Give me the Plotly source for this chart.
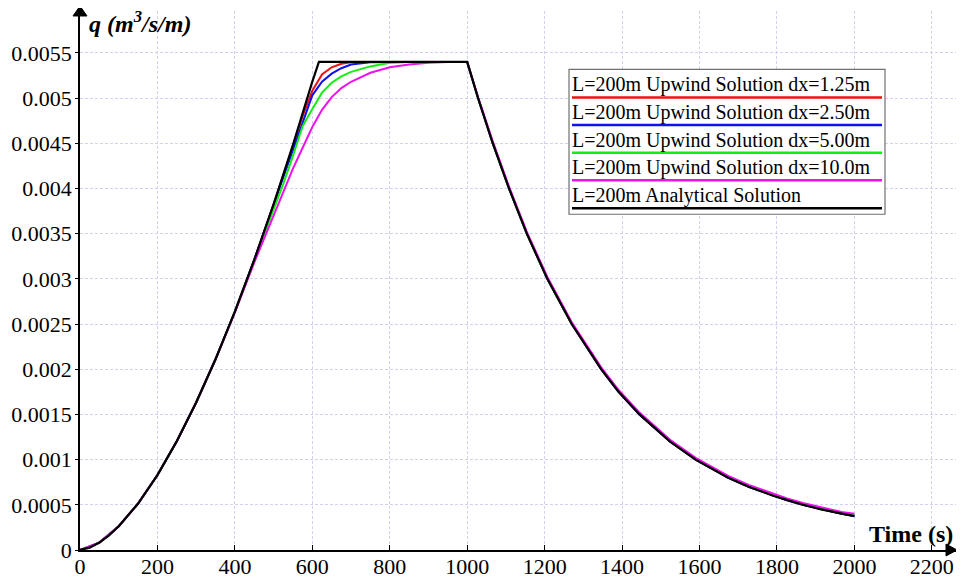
import plotly.graph_objects as go

# ---------------- data ----------------
t_an = [0, 25, 50, 75, 100, 150, 200, 250, 300, 350, 400, 450, 500, 550, 600, 617,
        1000, 1028, 1066, 1108, 1154, 1207, 1270, 1346, 1391, 1445, 1524, 1590,
        1674, 1727, 1790, 1826, 1867, 1914, 1967, 2000]
q_an = [0, 0.000026, 0.000082, 0.000162, 0.000262, 0.000514, 0.000829, 0.001204,
        0.001632, 0.00211, 0.002637, 0.003209, 0.003824, 0.004483, 0.005182, 0.0054,
        0.0054, 0.005, 0.0045, 0.004, 0.0035, 0.003, 0.0025, 0.002, 0.00175, 0.0015,
        0.0012, 0.001, 0.0008, 0.0007, 0.0006, 0.00055, 0.0005, 0.00045, 0.0004, 0.000374]

t_num = [0, 50, 100, 150, 200, 250, 300, 350, 400, 450, 500, 525, 550, 575, 600, 625,
         650, 675, 700, 750, 800, 850, 900, 950, 1000, 1028, 1066, 1108, 1154, 1207,
         1270, 1346, 1391, 1445, 1524, 1590, 1674, 1727, 1790, 1826, 1867, 1914, 1967, 2000]

q_dx125 = [0, 0.000082, 0.000262, 0.000514, 0.000829, 0.001204, 0.001632, 0.00211,
           0.002637, 0.003209, 0.003824, 0.00414, 0.00447, 0.0048, 0.00508, 0.00526,
           0.00534, 0.00538, 0.005395, 0.0054, 0.0054, 0.0054, 0.0054, 0.0054, 0.0054,
           0.005, 0.0045, 0.004, 0.0035, 0.003, 0.0025, 0.002, 0.00175, 0.0015, 0.0012,
           0.001, 0.0008, 0.0007, 0.0006, 0.00055, 0.0005, 0.00045, 0.0004, 0.000375]
q_dx250 = [0, 0.000082, 0.000262, 0.000514, 0.000829, 0.001204, 0.001632, 0.00211,
           0.002637, 0.003209, 0.00382, 0.00412, 0.00444, 0.00474, 0.00503, 0.00518,
           0.00527, 0.00533, 0.00537, 0.005395, 0.0054, 0.0054, 0.0054, 0.0054, 0.0054,
           0.005, 0.0045, 0.004, 0.0035, 0.003, 0.0025, 0.002, 0.00175, 0.0015, 0.0012,
           0.001, 0.0008, 0.0007, 0.0006, 0.00055, 0.0005, 0.00045, 0.0004, 0.000376]
q_dx500 = [0, 0.000082, 0.000262, 0.000514, 0.000829, 0.001204, 0.001632, 0.00211,
           0.002637, 0.0032, 0.00378, 0.00405, 0.00436, 0.00469, 0.00488, 0.00506,
           0.00517, 0.00524, 0.00529, 0.00535, 0.00539, 0.0054, 0.0054, 0.0054, 0.0054,
           0.005, 0.0045, 0.004, 0.0035, 0.003, 0.0025, 0.00201, 0.00176, 0.00151, 0.00121,
           0.00101, 0.00081, 0.00071, 0.00061, 0.00056, 0.00051, 0.00046, 0.00041, 0.000385]
q_dx100 = [0, 0.000082, 0.000262, 0.000514, 0.000829, 0.001204, 0.001632, 0.00211,
           0.00263, 0.00318, 0.0037, 0.00397, 0.00422, 0.00445, 0.00468, 0.00487,
           0.00501, 0.00511, 0.00518, 0.00528, 0.00534, 0.00537, 0.00539, 0.0054, 0.0054,
           0.00501, 0.00452, 0.00402, 0.00352, 0.00302, 0.00252, 0.00202, 0.00177, 0.00152,
           0.00122, 0.00102, 0.00082, 0.00072, 0.00062, 0.00057, 0.00052, 0.00047, 0.00042, 0.0004]

series_names = ["L=200m Upwind Solution dx=1.25m",
                "L=200m Upwind Solution dx=2.50m",
                "L=200m Upwind Solution dx=5.00m",
                "L=200m Upwind Solution dx=10.0m",
                "L=200m Analytical Solution"]
series_colors = ["#ee1111", "#1111ee", "#11ee11", "#ee11ee", "#000000"]

x_ticks = [0, 200, 400, 600, 800, 1000, 1200, 1400, 1600, 1800, 2000, 2200]
y_ticks = [0, 0.0005, 0.001, 0.0015, 0.002, 0.0025, 0.003, 0.0035, 0.004, 0.0045, 0.005, 0.0055]
y_tick_text = ["0", "0.0005", "0.001", "0.0015", "0.002", "0.0025", "0.003", "0.0035",
               "0.004", "0.0045", "0.005", "0.0055"]

# ---------------- figure ----------------
FONT = "Liberation Serif, Times New Roman, serif"
OFF = 8                      # page body margin in the browser
W, H = 964 - OFF, 579 - OFF
PLOT_L, PLOT_T, PLOT_B = 80, 11, 552     # plot area edges in window pixels
ML, MR, MT, MB = PLOT_L - OFF, 0, PLOT_T - OFF, 579 - PLOT_B
PW, PH = W - ML - MR, H - MT - MB


def px(xpix):
    return (xpix - PLOT_L) / PW


def py(ypix):
    return 1 - (ypix - PLOT_T) / PH


fig = go.Figure()
num_sets = [q_dx125, q_dx250, q_dx500, q_dx100]
for q, name, col in zip(num_sets, series_names[:4], series_colors[:4]):
    fig.add_trace(go.Scatter(x=t_num, y=q, mode="lines", name=name,
                             line=dict(color=col, width=2), showlegend=False))
fig.add_trace(go.Scatter(x=t_an, y=q_an, mode="lines", name=series_names[4],
                         line=dict(color=series_colors[4], width=2.2), showlegend=False))

grid = dict(showgrid=True, gridcolor="#d2d2ee", griddash="3px,2px", gridwidth=1)
fig.update_xaxes(range=[0, PW / 0.3872], tickvals=x_ticks, ticks="inside", ticklen=5,
                 tickcolor="black", showline=True, linecolor="black", linewidth=1.5,
                 zeroline=False, ticklabelstandoff=-4,
                 tickfont=dict(family=FONT, size=22, color="black"), **grid)
fig.update_yaxes(range=[0, PH / 90727.0], tickvals=y_ticks, ticktext=y_tick_text,
                 ticks="outside", ticklen=3, tickcolor="black", showline=True,
                 linecolor="black", linewidth=1.5, zeroline=False, ticklabelstandoff=-1,
                 tickfont=dict(family=FONT, size=22, color="black"), **grid)

shapes = []
annotations = []
# axis arrows
shapes.append(dict(type="path", xref="paper", yref="paper",
                   path=f"M 0 {py(6)} L {px(PLOT_L - 7)} {py(16)} L {px(PLOT_L + 7)} {py(16)} Z",
                   fillcolor="black", line=dict(color="black", width=1), layer="above"))
shapes.append(dict(type="path", xref="paper", yref="paper",
                   path=f"M {px(957)} {py(552)} L {px(946)} {py(546)} L {px(946)} {py(558)} Z",
                   fillcolor="black", line=dict(color="black", width=1), layer="above"))

# axis titles
annotations.append(dict(text="<b><i>q (m<sup>3</sup>/s/m)</i></b>", xref="paper", yref="paper",
                        x=px(87), y=py(22), xanchor="left", yanchor="middle",
                        showarrow=False, font=dict(family=FONT, size=24, color="black")))
annotations.append(dict(text="<b>Time (s)</b>", xref="paper", yref="paper",
                        x=px(955), y=py(536), xanchor="right", yanchor="middle",
                        showarrow=False, font=dict(family=FONT, size=24, color="black")))

# legend box (drawn)
shapes.append(dict(type="rect", xref="paper", yref="paper", x0=px(569), x1=px(885),
                   y0=py(215), y1=py(69.5),
                   fillcolor="white", line=dict(color="#707070", width=1.2), layer="above"))
line_px = [97.7, 125.3, 153.3, 181, 209]
for name, col, ly in zip(series_names, series_colors, line_px):
    shapes.append(dict(type="line", xref="paper", yref="paper", x0=px(572), x1=px(882),
                       y0=py(ly), y1=py(ly),
                       line=dict(color=col, width=2.5), layer="above"))
    annotations.append(dict(text=name, xref="paper", yref="paper", x=px(571), y=py(ly),
                            xanchor="left", yanchor="bottom", showarrow=False,
                            borderpad=0, font=dict(family=FONT, size=20, color="black")))

fig.update_layout(width=W, height=H, margin=dict(l=ML, r=MR, t=MT, b=MB),
                  paper_bgcolor="white", plot_bgcolor="white",
                  shapes=shapes, annotations=annotations, showlegend=False)

fig.write_html("out.html")
